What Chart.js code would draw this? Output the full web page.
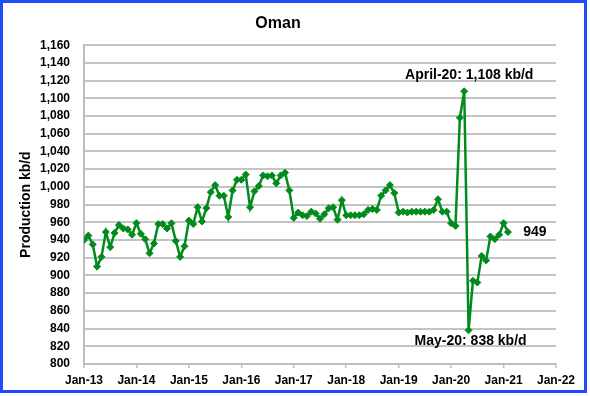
<!DOCTYPE html>
<html lang="en">
<head>
    <meta charset="UTF-8">
    <title>Oman</title>
    <script src="https://cdn.jsdelivr.net/npm/chart.js"></script>
    <style>
        body { margin: 0; background: #fff; }
        #wrap { position: relative; width: 590px; height: 396px; }
        #frame { position: absolute; left: 0; top: 0; width: 587px; height: 393px; border: 3px solid #1f4cff; box-sizing: border-box; pointer-events: none; }
    </style>
</head>
<body>
    <div id="wrap">
        <canvas id="oman" width="590" height="396"></canvas>
        <div id="frame"></div>
    </div>

    <script>
        // monthly production, Jan-13 .. Feb-21 (kb/d)
        const prod2013 = [940, 945, 935, 910, 921, 949, 932, 948, 957, 953, 952, 946];
        const prod2014 = [959, 947, 941, 925, 936, 958, 958, 953, 959, 939, 921, 933];
        const prod2015 = [962, 958, 977, 961, 976, 994, 1002, 990, 990, 966, 996, 1008];
        const prod2016 = [1008, 1014, 977, 995, 1001, 1013, 1012, 1013, 1004, 1013, 1016, 996];
        const prod2017 = [965, 971, 968, 967, 972, 970, 964, 969, 976, 977, 963, 985];
        const prod2018 = [968, 968, 968, 968, 969, 974, 975, 974, 990, 996, 1002, 993];
        const prod2019 = [971, 972, 971, 972, 972, 972, 972, 972, 974, 986, 972, 972];
        const prod2020 = [959, 956, 1078, 1108, 838, 894, 892, 922, 917, 944, 941, 946];
        const prod2021 = [959, 949];

        const xTickLabels = ['Jan-13', 'Jan-14', 'Jan-15', 'Jan-16', 'Jan-17', 'Jan-18', 'Jan-19', 'Jan-20', 'Jan-21', 'Jan-22'];

        const production = [].concat(prod2013, prod2014, prod2015, prod2016, prod2017, prod2018, prod2019, prod2020, prod2021);
        const points = production.map((v, i) => ({ x: i, y: v }));

        const FONT = "'Liberation Sans', Arial, sans-serif";
        const green = '#008c1c';

        // text notes next to the peak, the trough and the last point
        const notes = {
            id: 'notes',
            afterDatasetsDraw(chart) {
                const { ctx, scales } = chart;
                const x = scales.x, y = scales.y;
                ctx.save();
                ctx.fillStyle = '#000';
                ctx.font = 'bold 14px ' + FONT;
                ctx.textAlign = 'center';
                ctx.textBaseline = 'middle';
                ctx.fillText('April-20: 1,108 kb/d', x.getPixelForValue(87) + 5, y.getPixelForValue(1108) - 16);
                ctx.fillText('May-20: 838 kb/d', x.getPixelForValue(88) + 2, y.getPixelForValue(838) + 11);
                ctx.fillText('949', x.getPixelForValue(97) + 27, y.getPixelForValue(949));
                ctx.restore();
            }
        };

        new Chart(document.getElementById('oman'), {
            type: 'line',
            data: {
                datasets: [{
                    label: 'Oman',
                    data: points,
                    borderColor: green,
                    backgroundColor: green,
                    borderWidth: 2.5,
                    pointStyle: 'rectRot',
                    pointRadius: 3.5,
                    pointBorderWidth: 1,
                    tension: 0
                }]
            },
            options: {
                responsive: false,
                animation: false,
                layout: { padding: { left: 0, right: 34, top: 0, bottom: 0 } },
                plugins: {
                    legend: { display: false },
                    tooltip: { enabled: false },
                    title: {
                        display: true,
                        text: 'Oman',
                        color: '#000',
                        font: { family: FONT, size: 16, weight: 'bold' },
                        padding: { top: 14, bottom: 12 }
                    }
                },
                scales: {
                    x: {
                        type: 'linear',
                        min: 0,
                        max: 108,
                        afterFit: s => { s.height = 32; },
                        afterBuildTicks: s => { s.ticks = xTickLabels.map((_, i) => ({ value: i * 12 })); },
                        ticks: {
                            stepSize: 12,
                            autoSkip: false,
                            maxRotation: 0,
                            padding: 5,
                            color: '#000',
                            font: { family: FONT, size: 12, weight: 'bold' },
                            callback: v => xTickLabels[v / 12]
                        },
                        grid: { drawOnChartArea: false, drawTicks: true, tickLength: 4, color: '#bdbdbd', lineWidth: 1.5 },
                        border: { color: '#bdbdbd', width: 2 }
                    },
                    y: {
                        min: 800,
                        max: 1160,
                        afterFit: s => { s.width = 84; },
                        ticks: {
                            stepSize: 20,
                            padding: 14,
                            color: '#000',
                            font: { family: FONT, size: 12, weight: 'bold' },
                            callback: v => v.toLocaleString('en-US')
                        },
                        grid: { color: '#c4c4c4', lineWidth: 2, drawTicks: false },
                        border: { color: '#bdbdbd', width: 2 },
                        title: {
                            display: true,
                            text: 'Production kb/d',
                            color: '#000',
                            font: { family: FONT, size: 14, weight: 'bold' },
                            padding: { top: 18, bottom: 0 }
                        }
                    }
                }
            },
            plugins: [notes]
        });
    </script>
</body>
</html>
